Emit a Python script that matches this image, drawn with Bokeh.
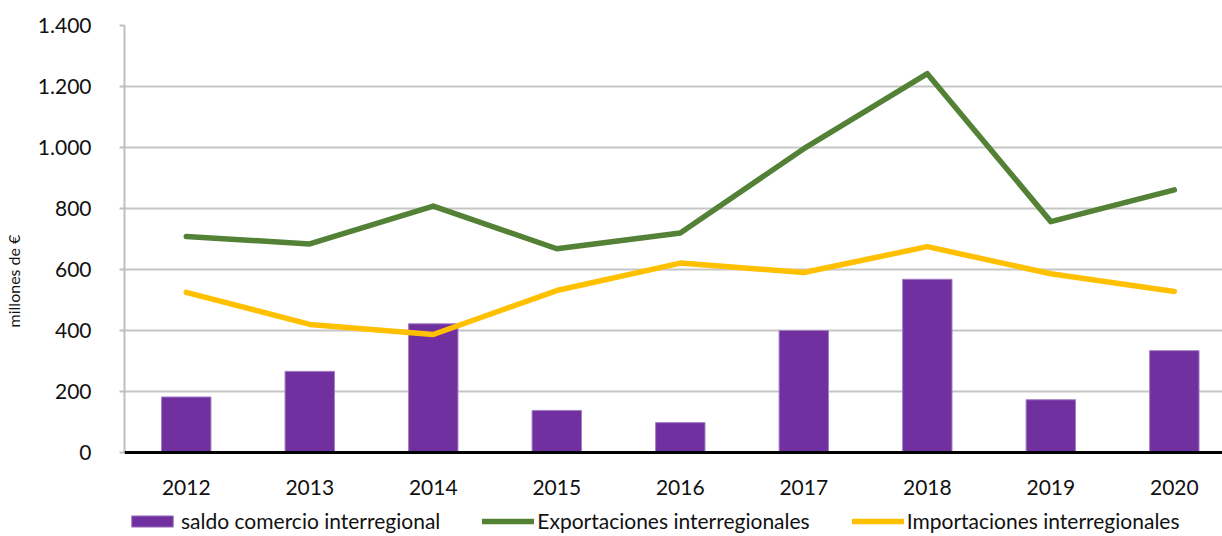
from bokeh.plotting import figure
from bokeh.models import FixedTicker, Legend, LegendItem, ColumnDataSource, Span
from bokeh.core.properties import value
from bokeh.embed import file_html
from bokeh.resources import INLINE

# ---- data ----
years = [2012, 2013, 2014, 2015, 2016, 2017, 2018, 2019, 2020]
year_labels = ["2012", "2013", "2014", "2015", "2016", "2017", "2018", "2019", "2020"]
saldo = [182, 266, 422, 138, 98, 400, 568, 173, 334]
exportaciones = [708, 684, 808, 668, 720, 996, 1242, 757, 861]
importaciones = [525, 420, 387, 531, 621, 590, 675, 586, 528]
y_ticks = [0, 200, 400, 600, 800, 1000, 1200, 1400]
y_tick_labels = ["0", "200", "400", "600", "800", "1.000", "1.200", "1.400"]
series_names = ["saldo comercio interregional", "Exportaciones interregionales",
                "Importaciones interregionales"]
y_title = "millones de €"

FONT = "Lato"
PURPLE = "#7030A0"
GREEN = "#538135"
YELLOW = "#FFC000"

src = ColumnDataSource(dict(x=years, saldo=saldo, exp=exportaciones, imp=importaciones,
                            lab=year_labels, base=[0] * len(years)))

# frame runs to the bottom of the page; the value 0 sits 84px above it
p = figure(width=1222, height=536, output_backend="svg", toolbar_location=None,
           x_range=(2011.5, 2020.39), y_range=(-275.4, 1400))
p.min_border_left = 123
p.min_border_right = 0
p.min_border_top = 25
p.min_border_bottom = 0
p.outline_line_color = None
p.background_fill_color = "white"
p.border_fill_color = "white"

bars = p.vbar(x="x", top="saldo", bottom=0, width=0.4, source=src,
              fill_color=PURPLE, line_color="#A37FC4", line_width=1)
gl = p.line(x="x", y="exp", source=src, line_color=GREEN, line_width=5.5,
            line_join="round", line_cap="round")
yl = p.line(x="x", y="imp", source=src, line_color=YELLOW, line_width=5.5,
            line_join="round", line_cap="round")

# grid
p.xgrid.grid_line_color = None
p.ygrid.ticker = FixedTicker(ticks=y_ticks)
p.ygrid.grid_line_color = "#C6C6C6"
p.ygrid.grid_line_width = 2

# x axis drawn at value 0 (line + category labels)
p.xaxis.visible = False
p.add_layout(Span(location=0, dimension="width", line_color="black", line_width=3))
p.text(x="x", y="base", text="lab", source=src, text_align="center",
       text_baseline="middle", y_offset=35, text_font=value(FONT),
       text_font_size="21px", text_color="#111111")

# y axis
ya = p.yaxis[0]
ya.ticker = FixedTicker(ticks=y_ticks)
ya.bounds = (0, 1400)
ya.major_label_overrides = {t: l for t, l in zip(y_ticks, y_tick_labels)}
ya.axis_line_color = "#BFBFBF"
ya.axis_line_width = 2
ya.major_tick_line_color = "#BFBFBF"
ya.major_tick_line_width = 2
ya.major_tick_out = 5
ya.major_tick_in = 0
ya.minor_tick_line_color = None
ya.major_label_standoff = 28
ya.major_label_text_font = FONT
ya.major_label_text_font_size = "21px"
ya.major_label_text_color = "#111111"
ya.axis_label = y_title
ya.axis_label_text_font = FONT
ya.axis_label_text_font_size = "16px"
ya.axis_label_text_font_style = "normal"
ya.axis_label_text_color = "#111111"
ya.axis_label_standoff = 12

legend = Legend(items=[
    LegendItem(label=series_names[0], renderers=[bars]),
    LegendItem(label=series_names[1], renderers=[gl]),
    LegendItem(label=series_names[2], renderers=[yl]),
], orientation="horizontal", location=(2, 3))
legend.padding = 0
legend.margin = 0
legend.spacing = 42
legend.glyph_width = 52
legend.glyph_height = 14
legend.label_height = 20
legend.label_standoff = 3
legend.label_text_font = FONT
legend.label_text_font_size = "21px"
legend.label_text_color = "#111111"
legend.border_line_color = None
legend.background_fill_alpha = 0
p.add_layout(legend, "center")

open("out.html", "w").write(file_html(p, INLINE))
